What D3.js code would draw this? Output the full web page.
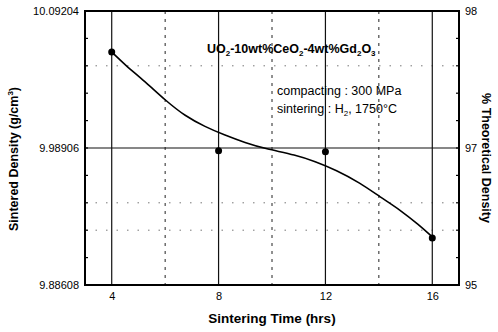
<!DOCTYPE html>
<html>
<head>
<meta charset="utf-8">
<script src="https://cdn.jsdelivr.net/npm/d3@7"></script>
<style>
  html, body { margin: 0; padding: 0; background: #fff; }
  svg { display: block; font-family: "Liberation Sans", Arial, sans-serif; }
</style>
</head>
<body>
<svg id="chart" width="498" height="332"></svg>
<script>
// ---- data ----
const hours = [4, 8, 12, 16];
const density = [10.0612, 9.9870, 9.9862, 9.9214];
const fitHours = [4, 4.5, 5.25, 6, 6.75, 7.5, 8.2, 9.0, 9.75, 10.9, 11.6, 12.4, 13.3, 14.05, 14.8, 15.5, 16];
const fitDensity = [10.0612, 10.0515, 10.0390, 10.0250, 10.0130, 10.0050, 9.9990, 9.9930, 9.9885, 9.9838, 9.9790, 9.9725, 9.9628, 9.9522, 9.9425, 9.9312, 9.9222];
const xTicks = [4, 8, 12, 16];
const xDashedGrid = [6, 10, 14];
const yTicks = [9.88608, 9.98906, 10.09204];
const yTickLabels = ["9.88608", "9.98906", "10.09204"];
const rightTickLabels = ["95", "97", "98"];
const yDottedGrid = [10.05085, 9.94787, 9.92727];

// ---- layout ----
const svg = d3.select("#chart");
const L = 85, R = 459, T = 11, B = 285;
const x = d3.scaleLinear().domain([3, 17]).range([L, R]);
const y = d3.scaleLinear().domain([9.88608, 10.09204]).range([B, T]);
const minorTicks = d3.range(0, 11).map(i => 9.88608 + i * 0.020596);

const g = svg.append("g");

// dotted horizontal grid
g.selectAll(".hdot").data(yDottedGrid).join("line")
  .attr("x1", L).attr("x2", R).attr("y1", d => y(d)).attr("y2", d => y(d))
  .attr("stroke", "#555").attr("stroke-width", 0.8).attr("stroke-dasharray", "1.5,9");

// dashed vertical grid
g.selectAll(".vdash").data(xDashedGrid).join("line")
  .attr("x1", d => x(d)).attr("x2", d => x(d)).attr("y1", T).attr("y2", B)
  .attr("stroke", "#222").attr("stroke-width", 1).attr("stroke-dasharray", "3,5");

// solid vertical grid
g.selectAll(".vsolid").data(xTicks).join("line")
  .attr("x1", d => x(d)).attr("x2", d => x(d)).attr("y1", T).attr("y2", B)
  .attr("stroke", "#111").attr("stroke-width", 1.2);

// solid horizontal middle grid
g.append("line")
  .attr("x1", L).attr("x2", R).attr("y1", y(yTicks[1])).attr("y2", y(yTicks[1]))
  .attr("stroke", "#111").attr("stroke-width", 1.2);

// axes
const leftAxis = d3.axisLeft(y).tickValues(yTicks).tickFormat((d, i) => yTickLabels[i]).tickSize(0).tickPadding(6);
const rightAxis = d3.axisRight(y).tickValues(yTicks).tickFormat((d, i) => rightTickLabels[i]).tickSize(0).tickPadding(6);
const bottomAxis = d3.axisBottom(x).tickValues(xTicks).tickFormat(d3.format("d")).tickSize(0).tickPadding(7);

function styleAxis(sel) {
  sel.select(".domain").remove();
  sel.selectAll("text").attr("font-size", 11).attr("fill", "#000")
    .attr("font-family", "'Liberation Sans', Arial, sans-serif");
}
svg.append("g").attr("transform", `translate(${L},0)`).call(leftAxis).call(styleAxis);
svg.append("g").attr("transform", `translate(${R},0)`).call(rightAxis).call(styleAxis);
svg.append("g").attr("transform", `translate(0,${B})`).call(bottomAxis).call(styleAxis);

// minor ticks (inward)
g.selectAll(".lmin").data(minorTicks).join("line")
  .attr("x1", L).attr("x2", L + 3).attr("y1", d => y(d)).attr("y2", d => y(d))
  .attr("stroke", "#000").attr("stroke-width", 1.2);
g.selectAll(".rmin").data(minorTicks).join("line")
  .attr("x1", R).attr("x2", R - 3).attr("y1", d => y(d)).attr("y2", d => y(d))
  .attr("stroke", "#000").attr("stroke-width", 1.2);

// frame
svg.append("rect").attr("x", L).attr("y", T).attr("width", R - L).attr("height", B - T)
  .attr("fill", "none").attr("stroke", "#000").attr("stroke-width", 2);

// fitted curve
const line = d3.line().x((d, i) => x(fitHours[i])).y(d => y(d)).curve(d3.curveBasis);
svg.append("path").datum(fitDensity).attr("d", line)
  .attr("fill", "none").attr("stroke", "#000").attr("stroke-width", 1.6);

// points
svg.selectAll(".pt").data(density).join("circle")
  .attr("cx", (d, i) => x(hours[i])).attr("cy", d => y(d)).attr("r", 3.5).attr("fill", "#000");

// axis titles
svg.append("text").attr("x", 272).attr("y", 323).attr("text-anchor", "middle")
  .attr("font-size", 13.5).attr("font-weight", "bold").text("Sintering Time (hrs)");

const lt = svg.append("text").attr("transform", "translate(18,159) rotate(-90)")
  .attr("text-anchor", "middle").attr("font-size", 12.5).attr("font-weight", "bold");
lt.append("tspan").text("Sintered Density (g/cm");
lt.append("tspan").attr("font-size", 8).attr("dy", -5).text("3");
lt.append("tspan").attr("dy", 5).text(")");

svg.append("text").attr("transform", "translate(482,158) rotate(90)")
  .attr("text-anchor", "middle").attr("font-size", 12.5).attr("font-weight", "bold")
  .text("% Theoretical Density");

// annotation
const title = svg.append("text").attr("x", 207).attr("y", 53)
  .attr("font-size", 12.5).attr("font-weight", "bold");
[["UO", false], ["2", true], ["-10wt%CeO", false], ["2", true], ["-4wt%Gd", false], ["2", true], ["O", false], ["3", true]]
  .forEach(([t, sub], i, arr) => {
    const prevSub = i > 0 && arr[i - 1][1];
    const ts = title.append("tspan").text(t);
    if (sub) ts.attr("font-size", 8).attr("dy", 3);
    else if (prevSub) ts.attr("dy", -3);
  });

svg.append("text").attr("x", 277).attr("y", 95).attr("font-size", 12.5).text("compacting : 300 MPa");
const s2 = svg.append("text").attr("x", 277).attr("y", 113).attr("font-size", 12.5);
s2.append("tspan").text("sintering : H");
s2.append("tspan").attr("font-size", 8).attr("dy", 3).text("2");
s2.append("tspan").attr("dy", -3).text(", 1750°C");
</script>
</body>
</html>
